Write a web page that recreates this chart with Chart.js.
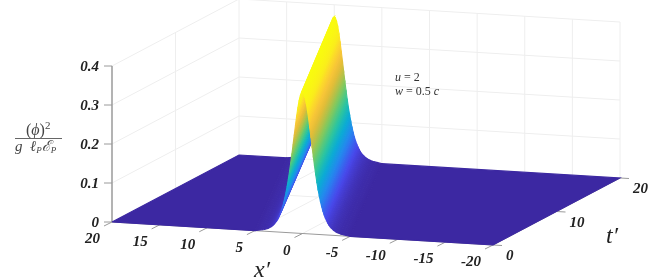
<!DOCTYPE html>
<html>
<head>
<meta charset="utf-8">
<style>
  html, body { margin: 0; background: #fff; }
  canvas { display: block; filter: blur(0.35px); }
</style>
<script src="https://cdn.jsdelivr.net/npm/chart.js@4"></script>
</head>
<body>
<canvas id="myChart" width="654" height="279"></canvas>
<script>
// values
const xTicks = [20, 15, 10, 5, 0, -5, -10, -15, -20]
const tTicks = [0, 10, 20]
const zTicks = [0, 0.1, 0.2, 0.3, 0.4]
const zTickLabels = ['0', '0.1', '0.2', '0.3', '0.4']

// ridge at the two ends of the t' range
const ridgeTimes = [0, 20]
const ridgeCenters = [0, 10]
const ridgePeaks = [0.363, 0.369]

// ridge cross section, distance from the centre and share of the peak
const sideOffsets = [0, 0.125, 0.25, 0.375, 0.5, 0.625, 0.75, 0.875, 1, 1.125, 1.25, 1.375, 1.5, 1.625, 1.75, 1.875, 2, 2.125, 2.25, 2.375, 2.5, 2.625, 2.75, 2.875, 3, 3.125, 3.25, 3.375, 3.5, 3.625, 3.75, 4, 4.25, 4.5, 5]
const sideShape = [1, 0.992, 0.968, 0.931, 0.881, 0.822, 0.756, 0.689, 0.619, 0.552, 0.487, 0.426, 0.371, 0.321, 0.276, 0.236, 0.201, 0.171, 0.145, 0.123, 0.104, 0.087, 0.073, 0.062, 0.052, 0.044, 0.036, 0.031, 0.026, 0.021, 0.018, 0.012, 0.009, 0.006, 0]

const parulaStops = [
    [60, 40, 162], [72, 71, 235], [36, 134, 240], [8, 175, 210], [50, 200, 150],
    [135, 200, 90], [220, 186, 55], [254, 200, 55], [250, 240, 25], [249, 251, 14]
]

const canvas = document.getElementById('myChart')

const project = (x, t, z) => ({
    x: 112 + 9.525 * (20 - x) + 6.35 * t,
    y: 222 + 0.575 * (20 - x) - 3.35 * t - 390 * z
})

const colorFor = (z) => {
    const pos = Math.min(z / 0.369, 1) * (parulaStops.length - 1)
    const i = Math.min(Math.floor(pos), parulaStops.length - 2)
    const f = pos - i
    const c = parulaStops[i].map((v, k) => Math.round(v + (parulaStops[i + 1][k] - v) * f))
    return `rgb(${c[0]},${c[1]},${c[2]})`
}

// colour runs across the ribbon, from one long edge to the other
const ribbonFill = (quad, zA, zB) => {
    const dx = quad[1].x - quad[0].x
    const dy = quad[1].y - quad[0].y
    const len = Math.hypot(dx, dy)
    const nx = -dy / len
    const ny = dx / len
    const across = (quad[3].x - quad[0].x) * nx + (quad[3].y - quad[0].y) * ny
    if (Math.abs(across) < 0.01) return colorFor(zA)
    const g = canvas.getContext('2d').createLinearGradient(
        quad[0].x, quad[0].y, quad[0].x + nx * across, quad[0].y + ny * across
    )
    g.addColorStop(0, colorFor(zA))
    g.addColorStop(1, colorFor(zB))
    return g
}

const line = (data, color, width) => ({
    data, showLine: true, fill: false, borderColor: color, borderWidth: width,
    pointRadius: 0, tension: 0
})

const polygon = (data, color) => ({
    data: [...data, data[0]], showLine: true, fill: 'shape', backgroundColor: color,
    borderColor: color, borderWidth: 1.1, pointRadius: 0, tension: 0
})

// painted from the back to the front, reversed at the end for Chart.js
const layers = []
const gridColor = '#eeeeee'
const axisColor = '#9a9a9a'
const t0 = ridgeTimes[0]
const t1 = ridgeTimes[1]
const xHigh = xTicks[0]
const xLow = xTicks[xTicks.length - 1]
const zTop = zTicks[zTicks.length - 1]

zTicks.slice(1).forEach((z) => {
    layers.push(line([project(xHigh, t0, z), project(xHigh, t1, z), project(xLow, t1, z)], gridColor, 1))
})
tTicks.slice(1).forEach((t) => {
    layers.push(line([project(xHigh, t, 0), project(xHigh, t, zTop)], gridColor, 1))
    layers.push(line([project(xHigh, t, 0), project(xLow, t, 0)], gridColor, 1))
})
xTicks.slice(1).forEach((x) => {
    layers.push(line([project(x, t0, 0), project(x, t1, 0), project(x, t1, zTop)], gridColor, 1))
})

// axis lines and tick marks
layers.push(line([project(xHigh, t0, 0), project(xHigh, t0, zTop)], axisColor, 1.5))
layers.push(line([project(xHigh, t0, 0), project(xLow, t0, 0), project(xLow, t1, 0)], axisColor, 1))
zTicks.forEach((z) => {
    const p = project(xHigh, t0, z)
    layers.push(line([p, { x: p.x - 8, y: p.y }], axisColor, 1))
})
xTicks.forEach((x) => {
    const p = project(x, t0, 0)
    layers.push(line([p, { x: p.x - 8, y: p.y + 4 }], axisColor, 1))
})
tTicks.forEach((t) => {
    const p = project(xLow, t, 0)
    layers.push(line([p, { x: p.x + 9, y: p.y + 0.5 }], axisColor, 1))
})

// the sheet: far floor, ribbons along the ridge from far side to near side, near floor
const offsets = [...sideOffsets.slice(1).reverse(), ...sideOffsets.slice(0).map((v) => -v)]
const shape = [...sideShape.slice(1).reverse(), ...sideShape]
const rim = sideOffsets[sideOffsets.length - 1]

layers.push(polygon([
    project(xHigh, t0, 0), project(xHigh, t1, 0),
    project(ridgeCenters[1] + rim, t1, 0), project(ridgeCenters[0] + rim, t0, 0)
], colorFor(0)))

for (let i = 0; i < offsets.length - 1; i++) {
    const quad = [
        project(ridgeCenters[0] + offsets[i], t0, shape[i] * ridgePeaks[0]),
        project(ridgeCenters[1] + offsets[i], t1, shape[i] * ridgePeaks[1]),
        project(ridgeCenters[1] + offsets[i + 1], t1, shape[i + 1] * ridgePeaks[1]),
        project(ridgeCenters[0] + offsets[i + 1], t0, shape[i + 1] * ridgePeaks[0])
    ]
    layers.push(polygon(quad, ribbonFill(quad, shape[i] * ridgePeaks[1], shape[i + 1] * ridgePeaks[1])))
}

layers.push(polygon([
    project(ridgeCenters[0] - rim, t0, 0), project(ridgeCenters[1] - rim, t1, 0),
    project(xLow, t1, 0), project(xLow, t0, 0)
], colorFor(0)))

const tickFont = 'italic bold 15px "Liberation Serif"'
const mathItalic = (size) => `italic ${size}px "Liberation Serif"`
const mathPlain = (size) => `${size}px "Liberation Serif"`

const labelsPlugin = {
    id: 'labels3d',
    afterDraw(chart) {
        const { ctx, scales } = chart
        const px = (v) => scales.x.getPixelForValue(v)
        const py = (v) => scales.y.getPixelForValue(v)
        const put = (text, x, y, font, align, color) => {
            ctx.font = font
            ctx.textAlign = align || 'left'
            ctx.textBaseline = 'alphabetic'
            ctx.fillStyle = color || '#222'
            ctx.fillText(text, px(x), py(y))
        }
        // runs of text in one row, each with its own font
        const row = (parts, x, y, color) => {
            let cursor = x
            parts.forEach(([text, font, dy]) => {
                put(text, cursor, y + (dy || 0), font, 'left', color)
                cursor += ctx.measureText(text).width
            })
        }
        ctx.save()

        zTicks.forEach((z, i) => {
            const p = project(xHigh, t0, z)
            put(zTickLabels[i], p.x - 13, p.y + 5, tickFont, 'right')
        })
        xTicks.forEach((x) => {
            const p = project(x, t0, 0)
            put(String(x), p.x - 12, p.y + 21, tickFont, 'right')
        })
        tTicks.forEach((t) => {
            const p = project(xLow, t, 0)
            put(String(t), p.x + 13, p.y + 15, tickFont, 'left')
        })

        put('x′', 254, 277, mathItalic(24))
        put('t′', 606, 243, mathItalic(24))

        const soft = '#444'
        row([['(', mathPlain(16)], ['ϕ', mathItalic(16)], [')', mathPlain(16)], ['2', mathPlain(11), -6]], 26, 135, soft)
        ctx.fillStyle = '#666'
        ctx.fillRect(px(15), py(138), 47, 1)
        row([['g', mathItalic(15)]], 15, 151, soft)
        row([['ℓ', mathItalic(15)], ['P', mathItalic(9), 2], ['ℰ', mathItalic(15)], ['P', mathItalic(9), 2]], 30, 151, soft)

        row([['u', mathItalic(12)], [' = 2', mathPlain(12)]], 395, 81, '#333')
        row([['w', mathItalic(12)], [' = 0.5 ', mathPlain(12)], ['c', mathItalic(12)]], 395, 95, '#333')

        ctx.restore()
    }
}

new Chart(canvas, {
    type: 'scatter',
    data: { datasets: layers.reverse() },
    options: {
        responsive: false,
        animation: false,
        events: [],
        layout: { padding: 0 },
        clip: false,
        plugins: { legend: { display: false }, tooltip: { enabled: false } },
        scales: {
            x: { type: 'linear', min: 0, max: 654, display: false },
            y: { type: 'linear', min: 0, max: 279, reverse: true, display: false }
        }
    },
    plugins: [labelsPlugin]
})
</script>
</body>
</html>
